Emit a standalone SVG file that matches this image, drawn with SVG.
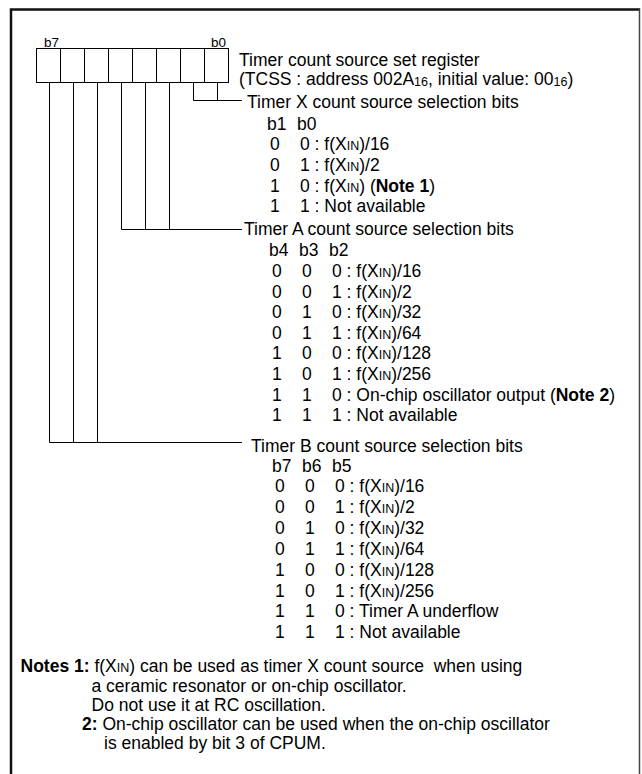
<svg xmlns="http://www.w3.org/2000/svg" width="642" height="774" viewBox="0 0 642 774">
<style>
text{font-family:"Liberation Sans",Arial,Helvetica,sans-serif;font-size:17.5px;fill:#000}
.s{font-size:12.5px}
.b{font-weight:bold}
.lbl{font-size:13.5px}
.ln{stroke:#000;stroke-width:1;fill:none}
</style>
<rect width="642" height="774" fill="#fff"/>
<g id="frame">
<path d="M11 780V9.5H639" fill="none" stroke="#111" stroke-width="2.5"/>
<path d="M639.5 8V780" fill="none" stroke="#444" stroke-width="1.5"/>
</g>
<g id="register">
<rect x="36.5" y="48.5" width="192" height="34" class="ln"/>
<path class="ln" d="M60.5 48.5V82.5M84.5 48.5V82.5M108.5 48.5V82.5M132.5 48.5V82.5M156.5 48.5V82.5M180.5 48.5V82.5M204.5 48.5V82.5"/>
<text class="lbl" x="44" y="46.5">b7</text>
<text class="lbl" x="211" y="46.5">b0</text>
</g>
<g id="title">
<text x="239" y="66">Timer count source set register</text>
<text x="239" y="85">(TCSS : address 002A<tspan class="s" dy="1">16</tspan><tspan dy="-1">, initial value: 00</tspan><tspan class="s" dy="1">16</tspan><tspan dy="-1">)</tspan></text>
</g>
<g id="connectors" class="ln">
<path d="M193.5 82.5V100.5H242M217.5 82.5V100.5"/>
<path d="M121.5 82.5V229.5H242M145.5 82.5V229.5M169.5 82.5V229.5"/>
<path d="M49.5 82.5V442.5H242M73.5 82.5V442.5M97.5 82.5V442.5"/>
</g>
<g id="timer-x">
<text x="247" y="108">Timer X count source selection bits</text>
<text y="130"><tspan x="267">b1</tspan><tspan x="297">b0</tspan></text>
<text y="150"><tspan x="270">0</tspan><tspan x="300">0 : f(X<tspan class="s">IN</tspan>)/16</tspan></text>
<text y="171"><tspan x="270">0</tspan><tspan x="300">1 : f(X<tspan class="s">IN</tspan>)/2</tspan></text>
<text y="191.5"><tspan x="270">1</tspan><tspan x="300">0 : f(X<tspan class="s">IN</tspan>) (<tspan class="b">Note 1</tspan>)</tspan></text>
<text y="212"><tspan x="270">1</tspan><tspan x="300">1 : Not available</tspan></text>
</g>
<g id="timer-a">
<text x="244" y="235">Timer A count source selection bits</text>
<text y="256"><tspan x="269">b4</tspan><tspan x="299">b3</tspan><tspan x="329">b2</tspan></text>
<text y="277"><tspan x="272">0</tspan><tspan x="302">0</tspan><tspan x="332">0 : f(X<tspan class="s">IN</tspan>)/16</tspan></text>
<text y="297.6"><tspan x="272">0</tspan><tspan x="302">0</tspan><tspan x="332">1 : f(X<tspan class="s">IN</tspan>)/2</tspan></text>
<text y="318.2"><tspan x="272">0</tspan><tspan x="302">1</tspan><tspan x="332">0 : f(X<tspan class="s">IN</tspan>)/32</tspan></text>
<text y="338.8"><tspan x="272">0</tspan><tspan x="302">1</tspan><tspan x="332">1 : f(X<tspan class="s">IN</tspan>)/64</tspan></text>
<text y="359.4"><tspan x="272">1</tspan><tspan x="302">0</tspan><tspan x="332">0 : f(X<tspan class="s">IN</tspan>)/128</tspan></text>
<text y="380"><tspan x="272">1</tspan><tspan x="302">0</tspan><tspan x="332">1 : f(X<tspan class="s">IN</tspan>)/256</tspan></text>
<text y="400.6"><tspan x="272">1</tspan><tspan x="302">1</tspan><tspan x="332">0 : On-chip oscillator output (<tspan class="b">Note 2</tspan>)</tspan></text>
<text y="421.2"><tspan x="272">1</tspan><tspan x="302">1</tspan><tspan x="332">1 : Not available</tspan></text>
</g>
<g id="timer-b">
<text x="251" y="451.5">Timer B count source selection bits</text>
<text y="472"><tspan x="272">b7</tspan><tspan x="302">b6</tspan><tspan x="332">b5</tspan></text>
<text y="492"><tspan x="275">0</tspan><tspan x="305">0</tspan><tspan x="335">0 : f(X<tspan class="s">IN</tspan>)/16</tspan></text>
<text y="512.9"><tspan x="275">0</tspan><tspan x="305">0</tspan><tspan x="335">1 : f(X<tspan class="s">IN</tspan>)/2</tspan></text>
<text y="533.8"><tspan x="275">0</tspan><tspan x="305">1</tspan><tspan x="335">0 : f(X<tspan class="s">IN</tspan>)/32</tspan></text>
<text y="554.7"><tspan x="275">0</tspan><tspan x="305">1</tspan><tspan x="335">1 : f(X<tspan class="s">IN</tspan>)/64</tspan></text>
<text y="575.6"><tspan x="275">1</tspan><tspan x="305">0</tspan><tspan x="335">0 : f(X<tspan class="s">IN</tspan>)/128</tspan></text>
<text y="596.5"><tspan x="275">1</tspan><tspan x="305">0</tspan><tspan x="335">1 : f(X<tspan class="s">IN</tspan>)/256</tspan></text>
<text y="617.4"><tspan x="275">1</tspan><tspan x="305">1</tspan><tspan x="335">0 : Timer A underflow</tspan></text>
<text y="638.3"><tspan x="275">1</tspan><tspan x="305">1</tspan><tspan x="335">1 : Not available</tspan></text>
</g>
<g id="notes">
<text x="20.5" y="672" xml:space="preserve"><tspan class="b">Notes 1:</tspan> f(X<tspan class="s">IN</tspan>) can be used as timer X count source  when using</text>
<text x="91.5" y="691.5">a ceramic resonator or on-chip oscillator.</text>
<text x="91.5" y="711">Do not use it at RC oscillation.</text>
<text x="82" y="730"><tspan class="b">2:</tspan> On-chip oscillator can be used when the on-chip oscillator</text>
<text x="104" y="749">is enabled by bit 3 of CPUM.</text>
</g>
</svg>
